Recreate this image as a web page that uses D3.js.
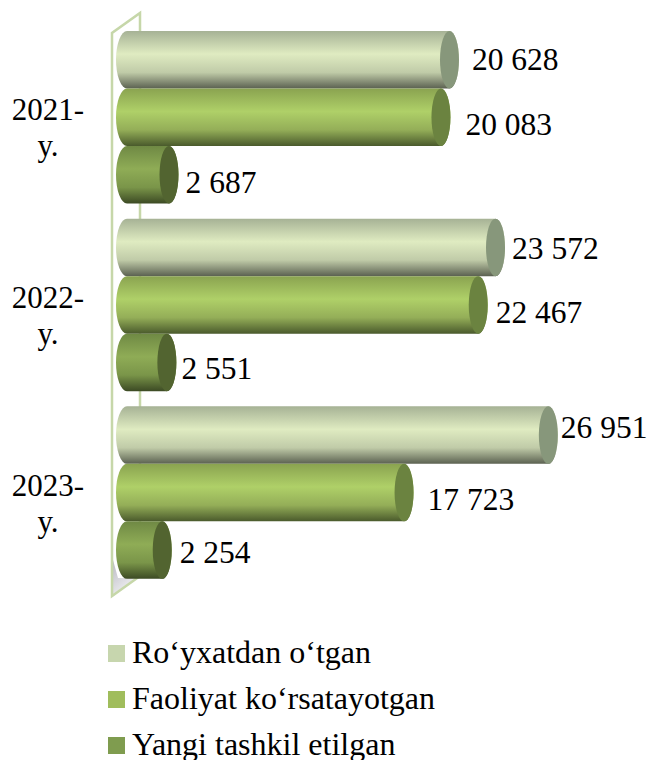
<!DOCTYPE html>
<html>
<head>
<meta charset="utf-8">
<script src="https://cdn.jsdelivr.net/npm/d3@7"></script>
<style>
  html, body { margin: 0; padding: 0; background: #fff; }
  text { font-family: "Liberation Serif", serif; fill: #000; }
</style>
</head>
<body>
<div id="chart"></div>
<script>
// chart values
var years = ["2021-", "2022-", "2023-"];
var yearSuffix = "y.";
var seriesNames = ["Ro‘yxatdan o‘tgan", "Faoliyat ko‘rsatayotgan", "Yangi tashkil etilgan"];
var registered = [20628, 23572, 26951];
var active = [20083, 22467, 17723];
var newlyCreated = [2687, 2551, 2254];

var width = 648, height = 760;

var svg = d3.select("#chart").append("svg")
    .attr("width", width)
    .attr("height", height);

// scales
var x = d3.scaleLinear().domain([0, 30000]).range([127, 596]);
var yGroup = d3.scaleBand().domain(years).range([31, 594]).paddingInner(0).paddingOuter(0);
var barH = 57.5;
var rx = 9.5;
var leftRx = 11;

// flat colours for legend, gradient stops and end caps
var styles = [
    { key: "a", swatch: "#c7d6ae", cap: "#87977b", stops: ["#a6b295", "#dfebc1", "#c0cba8", "#5b6151"] },
    { key: "b", swatch: "#a0bd5c", cap: "#6b8340", stops: ["#8aa350", "#afd068", "#94ae58", "#4a5a2c"] },
    { key: "c", swatch: "#7f9c4f", cap: "#526430", stops: ["#6f8944", "#8fac56", "#7a9549", "#3c4a24"] }
];

var defs = svg.append("defs");
styles.forEach(function (s) {
    var g = defs.append("linearGradient")
        .attr("id", "grad-" + s.key)
        .attr("x1", 0).attr("x2", 0).attr("y1", 0).attr("y2", 1);
    [0, 0.4, 0.72, 1].forEach(function (o, i) {
        g.append("stop").attr("offset", o).attr("stop-color", s.stops[i]);
    });
});
var floorGrad = defs.append("linearGradient")
    .attr("id", "floor")
    .attr("x1", 0).attr("x2", 0.6).attr("y1", 0).attr("y2", 1);
floorGrad.append("stop").attr("offset", 0).attr("stop-color", "#b9b9c2");
floorGrad.append("stop").attr("offset", 1).attr("stop-color", "#f2f2f4");

// back wall of the 3d plot
svg.append("path")
    .attr("d", "M113,560L118,578L136,578L113,594Z")
    .attr("fill", "url(#floor)");
svg.append("path")
    .attr("d", "M140,578V13L112,33V596L140,576")
    .attr("fill", "none")
    .attr("stroke", "#c6d7a9")
    .attr("stroke-width", 2.5);

function cylinder(x1, top) {
    var x0 = x(0), bottom = top + barH, ry = barH / 2;
    return "M" + x0 + "," + top + "L" + x1 + "," + top +
        "A" + rx + "," + ry + " 0 0 1 " + x1 + "," + bottom +
        "L" + x0 + "," + bottom +
        "A" + leftRx + "," + ry + " 0 0 1 " + x0 + "," + top + "Z";
}

var series = [registered, active, newlyCreated];
// manual label nudges, the labels in the original are not evenly placed
var labelGap = [[13, 7, 3], [15, 8, 14], [7, 5, 8]];
var labelDy = [[-1, 1, -8], [7, 7, 6], [7, 6, 2]];

years.forEach(function (year, yi) {
    var g = svg.append("g");
    series.forEach(function (vals, si) {
        var top = yGroup(year) + si * barH;
        var x1 = x(vals[yi]);
        g.append("path")
            .attr("d", cylinder(x1, top))
            .attr("fill", "url(#grad-" + styles[si].key + ")");
        g.append("ellipse")
            .attr("cx", x1).attr("cy", top + barH / 2)
            .attr("rx", rx).attr("ry", barH / 2)
            .attr("fill", styles[si].cap);
        g.append("text")
            .attr("x", x1 + rx + labelGap[si][yi])
            .attr("y", top + barH / 2 + 11 + labelDy[si][yi])
            .attr("font-size", 31.5)
            .text(d3.format(",")(vals[yi]).replace(",", " "));
    });

    // category label, wrapped on two lines
    var mid = yGroup(year) + barH * 1.5;
    var t = svg.append("text")
        .attr("text-anchor", "middle")
        .attr("font-size", 31);
    t.append("tspan").attr("x", 48).attr("y", mid + 3).text(year);
    t.append("tspan").attr("x", 48).attr("y", mid + 39).text(yearSuffix);
});

// legend
var legendY = d3.scalePoint().domain(seriesNames).range([654, 746]);
var legend = svg.selectAll("g.legend")
    .data(seriesNames)
    .enter().append("g")
    .attr("class", "legend")
    .attr("transform", function (d) { return "translate(108," + legendY(d) + ")"; });
legend.append("rect")
    .attr("y", -9)
    .attr("width", 17).attr("height", 17)
    .attr("fill", function (d, i) { return styles[i].swatch; });
legend.append("text")
    .attr("x", 24)
    .attr("y", 9)
    .attr("font-size", 32)
    .text(function (d) { return d; });
</script>
</body>
</html>
